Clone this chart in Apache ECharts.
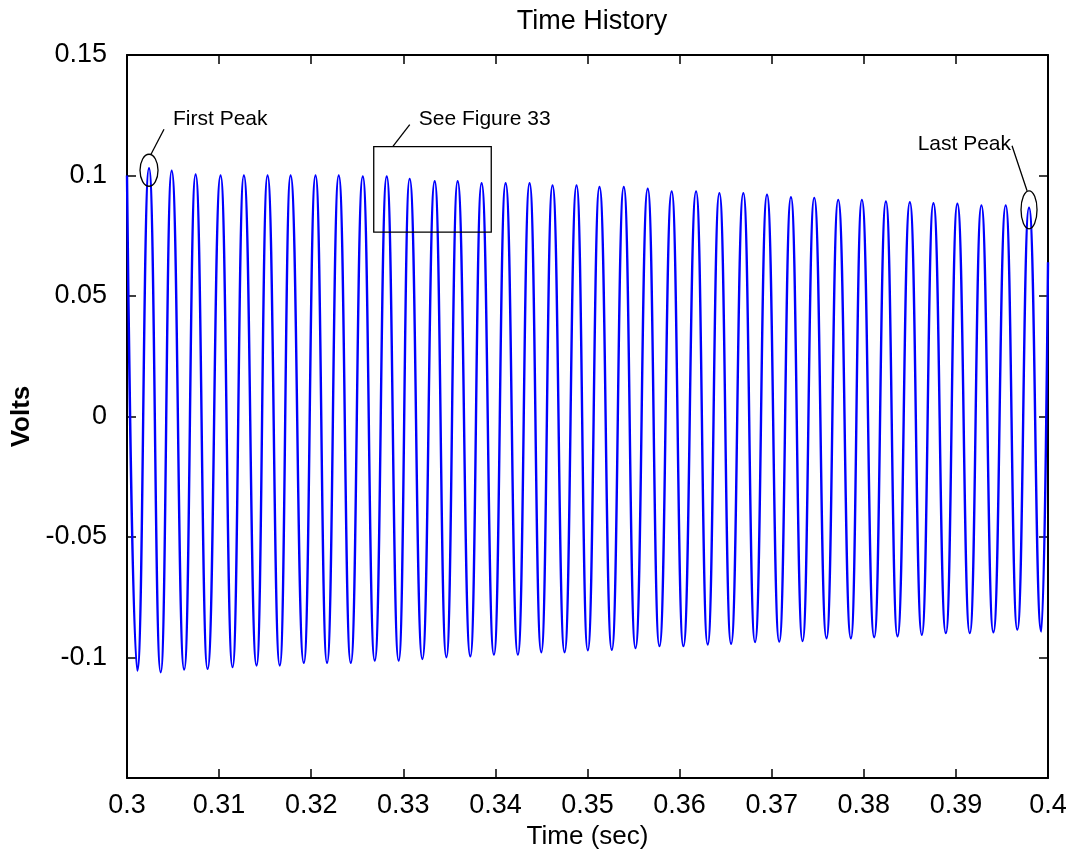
<!DOCTYPE html>
<html>
<head>
<meta charset="utf-8">
<title>Time History</title>
<script src="https://cdn.jsdelivr.net/npm/echarts@6/dist/echarts.min.js"></script>
<style>
    html, body { margin: 0; padding: 0; background: #fff; }
    #chart { width: 1071px; height: 857px; }
</style>
</head>
<body>
<div id="chart"></div>
<script>
// values: time (sec) and volts of every peak / trough
const peakTimes = [0.30239, 0.30485, 0.30745, 0.31016, 0.31269, 0.31526, 0.31776, 0.32047, 0.32299, 0.32560,
    0.32820, 0.33069, 0.33341, 0.33590, 0.33850, 0.34111, 0.34371, 0.34620, 0.34881, 0.35130,
    0.35394, 0.35654, 0.35914, 0.36179, 0.36432, 0.36692, 0.36949, 0.37209, 0.37462, 0.37722,
    0.37979, 0.38240, 0.38500, 0.38756, 0.39016, 0.39277, 0.39541, 0.39794]
const peakVolts = [0.1030, 0.1020, 0.1004, 0.1000, 0.1000, 0.1000, 0.1000, 0.1000, 0.1000, 0.0996,
    0.0996, 0.0986, 0.0976, 0.0976, 0.0968, 0.0968, 0.0968, 0.0959, 0.0959, 0.0952,
    0.0952, 0.0945, 0.0934, 0.0934, 0.0927, 0.0927, 0.0920, 0.0910, 0.0907, 0.0899,
    0.0899, 0.0892, 0.0889, 0.0885, 0.0883, 0.0876, 0.0876, 0.0866]
const troughTimes = [0.30112, 0.30366, 0.30621, 0.30875, 0.31146, 0.31407, 0.31659, 0.31920, 0.32172, 0.32430,
    0.32690, 0.32950, 0.33207, 0.33468, 0.33728, 0.33984, 0.34244, 0.34498, 0.34751, 0.35003,
    0.35264, 0.35521, 0.35781, 0.36041, 0.36305, 0.36559, 0.36819, 0.37082, 0.37335, 0.37595,
    0.37860, 0.38113, 0.38366, 0.38630, 0.38891, 0.39151, 0.39407, 0.39667, 0.39927]
const troughVolts = [-0.1054, -0.1061, -0.1050, -0.1047, -0.1040, -0.1033, -0.1033, -0.1022, -0.1022, -0.1022,
    -0.1013, -0.1013, -0.1006, -0.0999, -0.0995, -0.0988, -0.0988, -0.0978, -0.0978, -0.0970,
    -0.0968, -0.0961, -0.0953, -0.0953, -0.0946, -0.0943, -0.0936, -0.0934, -0.0932, -0.0920,
    -0.0920, -0.0916, -0.0912, -0.0906, -0.0899, -0.0899, -0.0895, -0.0884, -0.0892]
const startPoint = [0.3, 0.1]
const endPoint = [0.4, 0.064]

const xRange = [0.3, 0.4], xStep = 0.01
const yRange = [-0.15, 0.15], yStep = 0.05
// "See Figure 33" box, in data units
const boxTimes = [0.32679, 0.33955]
const boxVolts = [0.0765, 0.1120]

const font = '"Liberation Sans", Arial, sans-serif'

// peak, trough, peak ... in time order
let wave = [startPoint]
for (let i = 0; i < troughTimes.length; i++) {
    wave.push([troughTimes[i], troughVolts[i]])
    if (i < peakTimes.length) wave.push([peakTimes[i], peakVolts[i]])
}
wave.push(endPoint)

let chart = echarts.init(document.getElementById('chart'))

let boxAxis = function (pos, isX) {
    return {
        type: 'value',
        position: pos,
        min: isX ? xRange[0] : yRange[0],
        max: isX ? xRange[1] : yRange[1],
        interval: isX ? xStep : yStep,
        axisLine: { show: true, onZero: false, lineStyle: { color: '#000', width: 2 } },
        axisTick: { show: true, inside: true, length: 9, lineStyle: { color: '#000', width: 1.5 } },
        axisLabel: { show: false },
        splitLine: { show: false }
    }
}

let option = {
    animation: false,
    backgroundColor: '#fff',
    title: {
        text: 'Time History',
        left: 587,
        top: 3,
        textAlign: 'center',
        textStyle: { fontFamily: font, fontSize: 27, fontWeight: 'normal', color: '#000' }
    },
    grid: { left: 127, right: 23, top: 55, bottom: 79, containLabel: false },
    xAxis: [
        Object.assign(boxAxis('bottom', true), {
            name: 'Time (sec)',
            nameLocation: 'middle',
            nameGap: 42,
            nameTextStyle: { fontFamily: font, fontSize: 26, color: '#000' },
            axisLabel: { show: true, margin: 14, fontFamily: font, fontSize: 27, color: '#000' }
        }),
        boxAxis('top', true)
    ],
    yAxis: [
        Object.assign(boxAxis('left', false), {
            name: 'Volts',
            nameLocation: 'middle',
            nameRotate: 90,
            nameGap: 86,
            nameTextStyle: { fontFamily: font, fontSize: 26, fontWeight: 'bold', color: '#000' },
            axisLabel: {
                show: true, margin: 20, fontFamily: font, fontSize: 27, color: '#000',
                formatter: function (v) { return Math.abs(v - yRange[0]) < 1e-9 ? '' : String(+v.toFixed(3)) }
            }
        }),
        boxAxis('right', false)
    ],
    series: [{
        type: 'line',
        data: wave,
        xAxisIndex: 0,
        yAxisIndex: 0,
        showSymbol: false,
        smooth: 0.5,
        smoothMonotone: 'x',
        clip: true,
        lineStyle: { color: '#0000ff', width: 2.4 },
        z: 1
    }]
}
chart.setOption(option)

// annotations, anchored on data points
let px = function (pt) { return chart.convertToPixel({ seriesIndex: 0 }, pt) }
let first = px([peakTimes[0], peakVolts[0]])
let last = px([peakTimes[peakTimes.length - 1], peakVolts[peakVolts.length - 1]])
let b0 = px([boxTimes[0], boxVolts[1]])
let b1 = px([boxTimes[1], boxVolts[0]])
let ink = { stroke: '#000', lineWidth: 1.3, fill: null }
let label = function (x, y, text, align) {
    return {
        type: 'text', x: x, y: y, z: 10,
        style: { text: text, fill: '#000', font: '21px ' + font, align: align, verticalAlign: 'middle' }
    }
}

chart.setOption({
    graphic: [
        { type: 'ellipse', z: 10, shape: { cx: first[0], cy: first[1] + 2, rx: 9, ry: 16 }, style: ink },
        { type: 'polyline', z: 10, shape: { points: [[first[0] + 2, first[1] - 14], [first[0] + 15, first[1] - 39]] }, style: ink },
        label(first[0] + 24, first[1] - 49, 'First Peak', 'left'),

        { type: 'rect', z: 10, shape: { x: b0[0], y: b0[1], width: b1[0] - b0[0], height: b1[1] - b0[1] }, style: ink },
        { type: 'polyline', z: 10, shape: { points: [[b0[0] + 19, b0[1]], [b0[0] + 36, b0[1] - 22]] }, style: ink },
        label(b0[0] + 45, b0[1] - 27, 'See Figure 33', 'left'),

        { type: 'ellipse', z: 10, shape: { cx: last[0], cy: last[1] + 2, rx: 8, ry: 19 }, style: ink },
        { type: 'polyline', z: 10, shape: { points: [[last[0] - 2, last[1] - 17], [last[0] - 17, last[1] - 62]] }, style: ink },
        label(last[0] - 18, last[1] - 64, 'Last Peak', 'right')
    ]
})
</script>
</body>
</html>
